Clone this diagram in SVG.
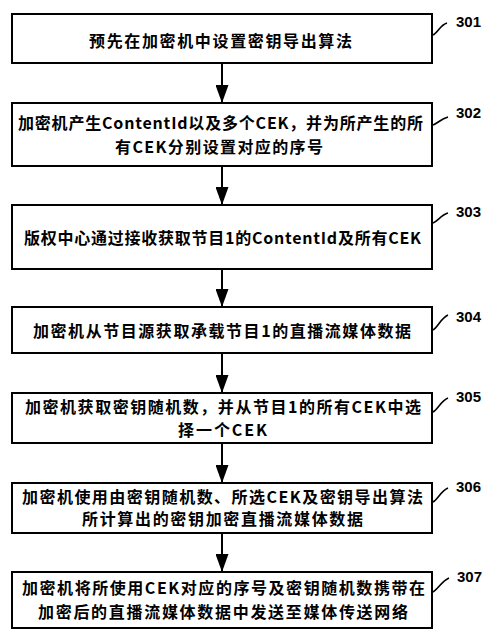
<svg xmlns="http://www.w3.org/2000/svg" width="500" height="642" viewBox="0 0 500 642">
<style>
.box{fill:#fff;stroke:#000;stroke-width:2}
.t{font-family:"Noto Sans CJK SC","Noto Sans",sans-serif;font-weight:700;font-size:16px;fill:#000}
.lbl{font-family:"Liberation Sans",Arial,sans-serif;font-weight:700;font-size:15px;fill:#000}
.tick{fill:none;stroke:#000;stroke-width:1.6}
.conn{stroke:#000;stroke-width:2;fill:none}
</style>
<defs>
<marker id="ah" viewBox="0 0 18 13" refX="18" refY="6.5" markerWidth="18" markerHeight="13" markerUnits="userSpaceOnUse" orient="auto">
<path d="M0,0 L18,6.5 L0,13 Z" fill="#000"/>
</marker>
</defs>
<rect width="500" height="642" fill="#fff"/>
<g id="connectors">
<line class="conn" x1="222" y1="63" x2="222" y2="103" marker-end="url(#ah)"/>
<line class="conn" x1="222" y1="166" x2="222" y2="205" marker-end="url(#ah)"/>
<line class="conn" x1="222" y1="269" x2="222" y2="307" marker-end="url(#ah)"/>
<line class="conn" x1="222" y1="353" x2="222" y2="393" marker-end="url(#ah)"/>
<line class="conn" x1="222" y1="443" x2="222" y2="483" marker-end="url(#ah)"/>
<line class="conn" x1="222" y1="533" x2="222" y2="572" marker-end="url(#ah)"/>
</g>
<g id="n301">
<rect class="box" x="12" y="14" width="420" height="49"/>
<text class="t" x="89" y="47" textLength="263" lengthAdjust="spacing">预先在加密机中设置密钥导出算法</text>
<path class="tick" d="M433,35 C438,33 440,25 447,23"/>
<text class="lbl" x="456" y="27">301</text>
</g>
<g id="n302">
<rect class="box" x="12" y="103" width="420" height="63"/>
<text class="t" x="18" y="129" textLength="405" lengthAdjust="spacing">加密机产生ContentId以及多个CEK，并为所产生的所</text>
<text class="t" x="115" y="153" textLength="208" lengthAdjust="spacing">有CEK分别设置对应的序号</text>
<path class="tick" d="M433,125 C438,123 441,119 448,117"/>
<text class="lbl" x="456" y="118">302</text>
</g>
<g id="n303">
<rect class="box" x="12" y="205" width="420" height="64"/>
<text class="t" x="24" y="244" textLength="397" lengthAdjust="spacing">版权中心通过接收获取节目1的ContentId及所有CEK</text>
<path class="tick" d="M433,223 C438,221 441,215 448,213"/>
<text class="lbl" x="456" y="217">303</text>
</g>
<g id="n304">
<rect class="box" x="12" y="307" width="420" height="46"/>
<text class="t" x="33" y="337" textLength="378" lengthAdjust="spacing">加密机从节目源获取承载节目1的直播流媒体数据</text>
<path class="tick" d="M433,330 C438,327 441,318 448,315"/>
<text class="lbl" x="456" y="322">304</text>
</g>
<g id="n305">
<rect class="box" x="12" y="393" width="420" height="50"/>
<text class="t" x="25" y="413" textLength="396" lengthAdjust="spacing">加密机获取密钥随机数，并从节目1的所有CEK中选</text>
<text class="t" x="178" y="436" textLength="89" lengthAdjust="spacing">择一个CEK</text>
<path class="tick" d="M433,412 C438,409 441,401 448,398"/>
<text class="lbl" x="456" y="402">305</text>
</g>
<g id="n306">
<rect class="box" x="12" y="483" width="420" height="50"/>
<text class="t" x="22" y="503" textLength="401" lengthAdjust="spacing">加密机使用由密钥随机数、所选CEK及密钥导出算法</text>
<text class="t" x="82" y="525" textLength="281" lengthAdjust="spacing">所计算出的密钥加密直播流媒体数据</text>
<path class="tick" d="M433,502 C438,499 441,491 448,488"/>
<text class="lbl" x="456" y="492">306</text>
</g>
<g id="n307">
<rect class="box" x="12" y="572" width="420" height="56"/>
<text class="t" x="22" y="594" textLength="403" lengthAdjust="spacing">加密机将所使用CEK对应的序号及密钥随机数携带在</text>
<text class="t" x="38" y="618" textLength="370" lengthAdjust="spacing">加密后的直播流媒体数据中发送至媒体传送网络</text>
<path class="tick" d="M433,592 C438,589 442,581 449,578"/>
<text class="lbl" x="457" y="582">307</text>
</g>
</svg>
